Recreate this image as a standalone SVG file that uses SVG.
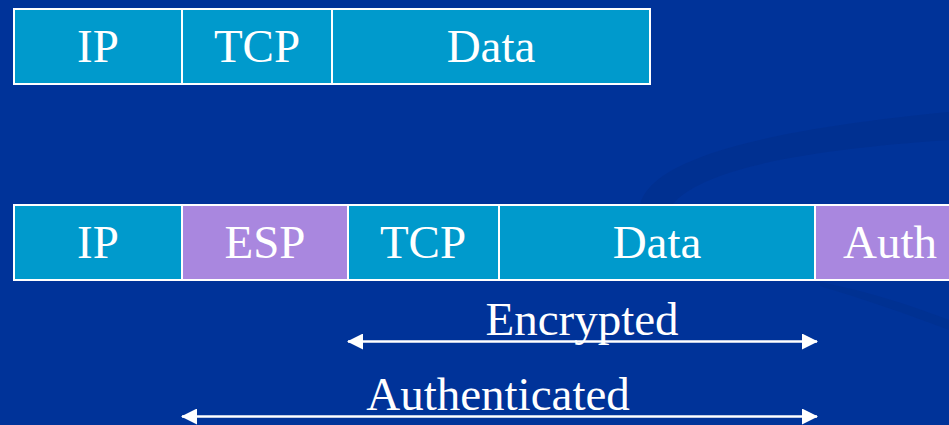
<svg xmlns="http://www.w3.org/2000/svg" width="949" height="425" viewBox="0 0 949 425">
  <style>
    .cyan { fill: #009acc; stroke: #ffffff; stroke-width: 2; }
    .violet { fill: #a987df; stroke: #ffffff; stroke-width: 2; }
    .lbl { font-family: 'Liberation Serif', 'DejaVu Serif', serif; font-size: 47px; fill: #ffffff; text-anchor: middle; }
    .span { stroke: #ffffff; stroke-width: 2.5; fill: none; marker-start: url(#tip); marker-end: url(#tip); }
  </style>
  <defs>
    <marker id="tip" viewBox="0 0 16 16" refX="15" refY="8" markerWidth="16" markerHeight="16" markerUnits="userSpaceOnUse" orient="auto-start-reverse">
      <path d="M0,0 L16,8 L0,16 Z" fill="#ffffff"/>
    </marker>
  </defs>

  <!-- backdrop with a faint sweeping band -->
  <rect width="949" height="425" fill="#003399"/>
  <path d="M640,205 C650,160 760,130 949,112 L949,140 C800,150 700,170 672,205 Z" fill="#00308f" opacity="0.8"/>
  <path d="M820,282 C870,292 910,305 949,320 L949,330 C905,313 860,298 820,286 Z" fill="#00308f" opacity="0.7"/>

  <!-- plain packet -->
  <g id="plain-ip"><rect class="cyan" x="14" y="9" width="168" height="75"/><text class="lbl" x="98" y="62" font-family="Liberation Serif, serif">IP</text></g>
  <g id="plain-tcp"><rect class="cyan" x="182" y="9" width="150" height="75"/><text class="lbl" x="257" y="62">TCP</text></g>
  <g id="plain-data"><rect class="cyan" x="332" y="9" width="318" height="75"/><text class="lbl" x="491" y="62">Data</text></g>

  <!-- ESP transport packet -->
  <g id="esp-ip"><rect class="cyan" x="14" y="205" width="168" height="75"/><text class="lbl" x="98" y="258">IP</text></g>
  <g id="esp-hdr"><rect class="violet" x="182" y="205" width="166" height="75"/><text class="lbl" x="265" y="258">ESP</text></g>
  <g id="esp-tcp"><rect class="cyan" x="348" y="205" width="151" height="75"/><text class="lbl" x="423" y="258">TCP</text></g>
  <g id="esp-data"><rect class="cyan" x="499" y="205" width="316" height="75"/><text class="lbl" x="657" y="258">Data</text></g>
  <g id="esp-auth"><rect class="violet" x="815" y="205" width="150" height="75"/><text class="lbl" x="890" y="258">Auth</text></g>

  <!-- coverage spans -->
  <g id="connectors">
    <line class="span" x1="348" y1="341.5" x2="817" y2="341.5"/>
    <line class="span" x1="182" y1="416.5" x2="817" y2="416.5"/>
  </g>
  <g id="span-labels">
    <text class="lbl" x="582" y="335">Encrypted</text>
    <text class="lbl" x="498" y="410">Authenticated</text>
  </g>
</svg>
